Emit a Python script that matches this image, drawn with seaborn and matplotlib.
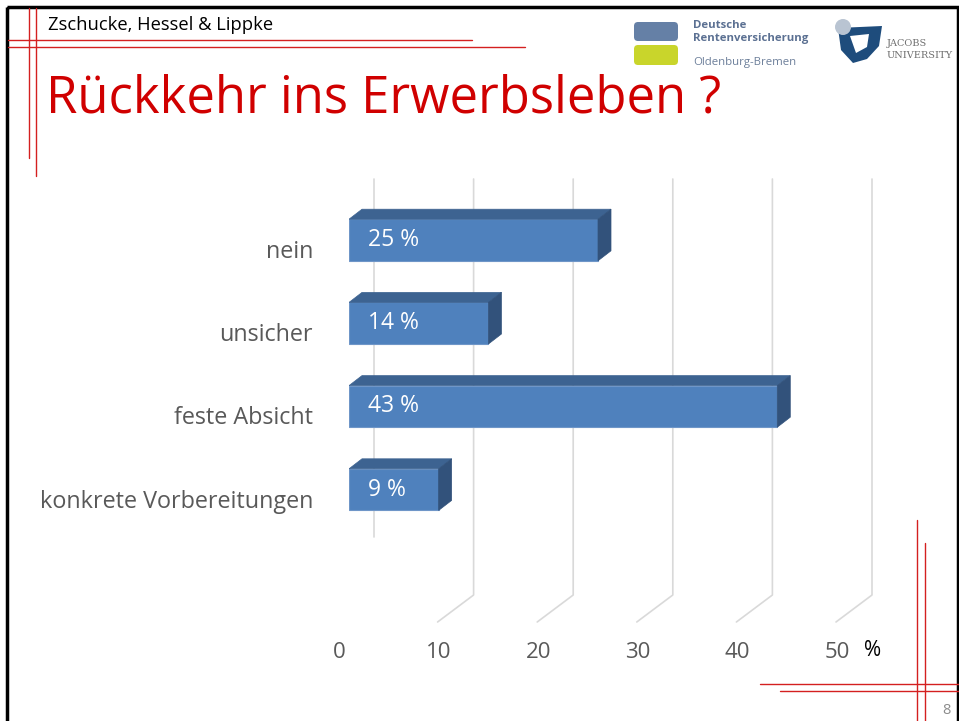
import matplotlib
matplotlib.use("Agg")
import matplotlib.pyplot as plt
import matplotlib.patches as mpatches
from matplotlib.transforms import ScaledTranslation
import seaborn as sns
import pandas as pd

# data
categories = ["nein", "unsicher", "feste Absicht", "konkrete Vorbereitungen"]
values = [25, 14, 43, 9]
value_labels = ["25 %", "14 %", "43 %", "9 %"]
x_ticks = [0, 10, 20, 30, 40, 50]

df = pd.DataFrame({"Antwort": categories, "Prozent": values})

sns.set_theme(style="white")
plt.rcParams["font.family"] = ["Open Sans", "DejaVu Sans"]

W, H = 959, 721
fig = plt.figure(figsize=(W / 100, H / 100), dpi=100)
fig.patch.set_facecolor("white")

# background axes in pixel units (slide decoration)
bg = fig.add_axes([0, 0, 1, 1])
bg.set_xlim(0, W)
bg.set_ylim(H, 0)
bg.axis("off")
bg.set_zorder(0)

# chart axes: front plane of the bars
ax = fig.add_axes([349 / W, 1 - 531.2 / H, 498 / W, 332.8 / H])
ax.set_zorder(1)
ax.patch.set_visible(False)

sns.barplot(data=df, x="Prozent", y="Antwort", orient="h", color="#4F81BD",
            saturation=1, width=0.5, ax=ax, edgecolor="#6F96C8", linewidth=0.8)
ax.set_xlim(0, 50)
ax.set_ylim(3.5, -0.5)
for s in ax.spines.values():
    s.set_visible(False)
ax.set_xlabel("")
ax.set_ylabel("")
ax.tick_params(length=0)

# pixel scale of the data axes
p0 = ax.transData.transform((0, 0))
p1 = ax.transData.transform((10, 1))
px_x = (p1[0] - p0[0]) / 10
px_y = (p0[1] - p1[1])  # pixels per category (downwards)

# 3d faces of the bars
ddx, ddy = 13 / px_x, 10 / px_y
for bar in ax.patches:
    x0, y0 = bar.get_x(), bar.get_y()
    w, h = bar.get_width(), bar.get_height()
    top = min(y0, y0 + h)
    bot = max(y0, y0 + h)
    x1 = x0 + w
    ax.add_patch(mpatches.Polygon([(x0, top), (x1, top), (x1 + ddx, top - ddy), (x0 + ddx, top - ddy)],
                                  closed=True, facecolor="#3D6391", edgecolor="#3D6391", lw=0.5, zorder=3))
    ax.add_patch(mpatches.Polygon([(x1, top), (x1 + ddx, top - ddy), (x1 + ddx, bot - ddy), (x1, bot)],
                                  closed=True, facecolor="#32527B", edgecolor="#32527B", lw=0.5, zorder=3))

# value labels inside bars
for i, lab in enumerate(value_labels):
    ax.text(1.9, i, lab, color="white", fontsize=16.5, va="center", ha="left", zorder=4)

# category labels
ax.set_yticks(range(len(categories)))
ax.set_yticklabels(categories, fontsize=16.8, color="#595959")
ax.tick_params(axis="y", pad=26)
for lab in ax.get_yticklabels():
    lab.set_transform(lab.get_transform() + ScaledTranslation(0, -9 / 100, fig.dpi_scale_trans))

# x tick labels (front edge of floor)
ax.set_xticks(x_ticks)
ax.set_xticklabels([str(t) for t in x_ticks], fontsize=16, color="#595959")
ax.tick_params(axis="x", pad=80)
for lab in ax.get_xticklabels():
    lab.set_transform(lab.get_transform() + ScaledTranslation(-10 / 100, 0, fig.dpi_scale_trans))

# back wall gridlines with floor diagonals
for t in x_ticks:
    fx = ax.transData.transform((t, 0))[0]
    bx = fx + 25
    if t == 0:
        bg.plot([bx, bx], [179, 537], color="#D9D9D9", lw=1.2)
    else:
        bg.plot([bx, bx, bx - 36], [179, 595, 622], color="#D9D9D9", lw=1.2)

bg.text(873, 651, "%", fontsize=15, color="black", ha="center", va="center")

# slide frame and header
bg.add_patch(mpatches.Rectangle((7, 7), 951, 730, fill=False, edgecolor="black", lw=2.5))
red = "#D42020"
bg.plot([8, 472], [40, 40], color=red, lw=1)
bg.plot([8, 525], [47, 47], color=red, lw=1)
bg.plot([29, 29], [8, 158], color=red, lw=1)
bg.plot([36, 36], [8, 176], color=red, lw=1)
bg.plot([760, 959], [684, 684], color=red, lw=1)
bg.plot([780, 959], [691, 691], color=red, lw=1)
bg.plot([917, 917], [520, 721], color=red, lw=1)
bg.plot([925, 925], [543, 721], color=red, lw=1)

bg.text(48, 25, "Zschucke, Hessel & Lippke", fontsize=13.2, color="black", va="center", ha="left")
bg.text(46, 99, "Rückkehr ins Erwerbsleben ?", fontsize=36.5, color="#D00000", va="center", ha="left")
bg.text(946, 710, "8", fontsize=10.5, color="#8C8C8C", va="center", ha="center")

# logos
bg.add_patch(mpatches.FancyBboxPatch((634, 22), 44, 19, boxstyle="round,pad=0,rounding_size=4",
                                     facecolor="#6580A6", edgecolor="none"))
bg.add_patch(mpatches.FancyBboxPatch((634, 45), 44, 20, boxstyle="round,pad=0,rounding_size=4",
                                     facecolor="#C9D52B", edgecolor="none"))
bg.text(693, 26, "Deutsche", fontsize=8.2, fontweight="bold", color="#5B7092", va="center")
bg.text(693, 38, "Rentenversicherung", fontsize=8.2, fontweight="bold", color="#5B7092", va="center")
bg.text(693, 63, "Oldenburg-Bremen", fontsize=8.2, color="#6C7F9A", va="center")

bg.add_patch(mpatches.Polygon([(838, 28), (882, 26), (879, 46), (867, 59), (853, 63), (841, 50)],
                              closed=True, facecolor="#1E4C7C", edgecolor="none"))
bg.add_patch(mpatches.Polygon([(850, 36), (869, 34), (867, 47), (856, 53)],
                              closed=True, facecolor="white", edgecolor="none"))
bg.add_patch(mpatches.Circle((843, 27), 8, facecolor="#B9C4D2", edgecolor="none"))
bg.text(887, 44, "JACOBS", fontsize=7, family="DejaVu Serif", color="#6E6E6E", va="center")
bg.text(887, 56, "UNIVERSITY", fontsize=7, family="DejaVu Serif", color="#6E6E6E", va="center")

fig.savefig("out.png", dpi=100)
